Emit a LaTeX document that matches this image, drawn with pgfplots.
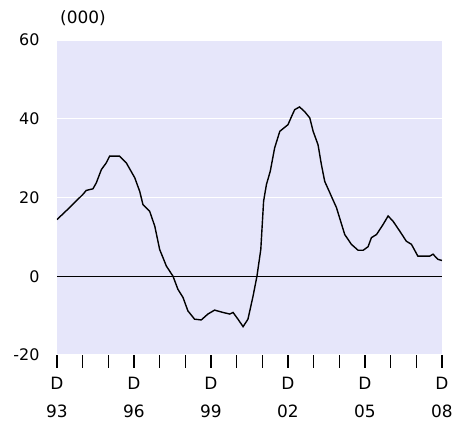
\documentclass[border=0pt]{standalone}
\usepackage{pgfplots}
\pgfplotsset{compat=1.18}
\usepackage{fontspec}
\setmainfont{DejaVu Sans}
\definecolor{bgcol}{RGB}{230,230,250}

\begin{document}
\begin{tikzpicture}
    \begin{axis}[
            name=ax,
            scale only axis,
            width=385bp, height=315bp,
            xmin=0, xmax=15,
            ymin=-20, ymax=60,
            axis lines*=left,
            axis line style={draw=none},
            axis background/.style={fill=bgcol},
            tick align=outside,
            xtick={0,1,...,15},
            xticklabels={{D\\93},{},{},{D\\96},{},{},{D\\99},{},{},{D\\02},{},{},{D\\05},{},{},{D\\08}},
            xticklabel style={align=center, font=\fontsize{17}{28}\selectfont, yshift=-6bp},
            x tick style={black, line width=1.4bp},
            major tick length=13bp,
            ytick={-20,20,40,60},
            yticklabels={-20,20,40,60},
            extra y ticks={0},
            extra y tick labels={0},
            y tick style={draw=none},
            yticklabel style={font=\fontsize{16}{18}\selectfont, xshift=-1bp},
            ymajorgrids,
            grid style={white, line width=1.3bp},
            extra y tick style={grid style={black, line width=1.4bp}},
        ]
        \addplot[black, line width=1.4bp] coordinates {
            (0.00, 14.4) (0.50, 17.5) (1.01, 20.8) (1.14, 21.8) (1.40, 22.2)
            (1.53, 23.7) (1.73, 27.1) (1.92, 28.8) (2.05, 30.5) (2.44, 30.5)
            (2.70, 28.8) (3.03, 25.0) (3.22, 21.6) (3.35, 18.2) (3.61, 16.5)
            (3.81, 12.7) (4.00, 6.8) (4.26, 2.6) (4.52, 0.0) (4.71, -3.3)
            (4.91, -5.4) (5.10, -8.8) (5.36, -10.9) (5.62, -11.1) (5.88, -9.6)
            (6.14, -8.6) (6.47, -9.2) (6.73, -9.6) (6.86, -9.2) (7.05, -10.9)
            (7.25, -12.8) (7.44, -10.9) (7.64, -5.0) (7.79, 0.0) (7.94, 6.8)
            (8.05, 19.1) (8.16, 23.3) (8.31, 26.7) (8.48, 32.6) (8.68, 36.8)
            (9.00, 38.5) (9.14, 40.6) (9.26, 42.3) (9.45, 43.0) (9.65, 41.8)
            (9.85, 40.2) (9.98, 36.8) (10.17, 33.4) (10.30, 28.4) (10.43, 24.1)
            (10.63, 21.2) (10.69, 20.3) (10.89, 17.4) (10.95, 16.1) (11.21, 10.6)
            (11.47, 8.1) (11.73, 6.6) (11.93, 6.6) (12.12, 7.5) (12.25, 9.8)
            (12.45, 10.6) (12.71, 13.2) (12.90, 15.3) (13.09, 14.0) (13.35, 11.5)
            (13.61, 8.9) (13.81, 8.1) (14.06, 5.1) (14.52, 5.1) (14.65, 5.6)
            (14.84, 4.3) (15.00, 4.0)
        };
    \end{axis}
    \node[anchor=south west, inner sep=0pt, font=\fontsize{17}{20}\selectfont]
        at ([shift={(3bp,14bp)}]ax.north west) {(000)};
    \pgfresetboundingbox
    \path ([shift={(-57bp,-66bp)}]ax.south west) rectangle ([shift={(10bp,40bp)}]ax.north east);
\end{tikzpicture}
\end{document}
